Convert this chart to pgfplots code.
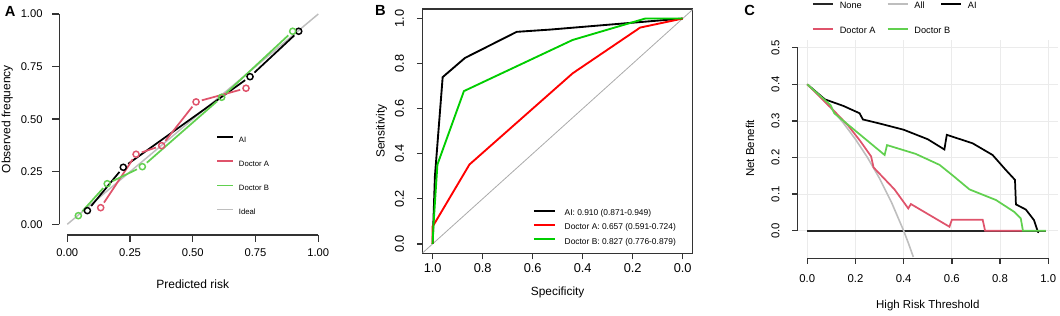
\documentclass[border=0pt]{standalone}
\usepackage{fontspec}
\setmainfont{Liberation Sans}
\usepackage{pgfplots}
\pgfplotsset{compat=1.18}
\definecolor{rA}{HTML}{DF536B}
\definecolor{gB}{HTML}{61D04F}
\definecolor{gy}{HTML}{BEBEBE}
\definecolor{rocred}{HTML}{FF0000}
\definecolor{rocgreen}{HTML}{00CD00}
\definecolor{diag}{HTML}{AAAAAA}
\definecolor{gridc}{HTML}{EBEBEB}
\definecolor{axc}{HTML}{333333}
\pgfplotsset{
  rstyle/.style={
    scale only axis, clip=false,
    /pgf/number format/assume math mode=true,
    legend cell align=left,
    unbounded coords=jump,
  },
}
\begin{document}
\begin{tikzpicture}
\path[use as bounding box] (0,0) rectangle (795pt,236.25pt);
% ---------------- Panel A ----------------
\begin{axis}[rstyle, at={(38.25pt,53.85pt)}, anchor=south west,
  width=208pt, height=178.2pt,
  xmin=-0.065, xmax=1.04, ymin=-0.09, ymax=1.04,
  axis line style={draw=none}, major tick length=0pt,
  xtick pos=left, ytick pos=left,
  xtick={0,0.25,0.5,0.75,1}, ytick={0,0.25,0.5,0.75,1},
  xticklabels={0.00,0.25,0.50,0.75,1.00},
  yticklabels={0.00,0.25,0.50,0.75,1.00},
  tick label style={font=\fontsize{8.4}{10}\selectfont},
  xticklabel shift=0.3pt, yticklabel shift=2.8pt,
  xlabel={Predicted risk}, ylabel={Observed frequency},
  label style={font=\fontsize{9}{11}\selectfont},
  xlabel style={at={(axis description cs:0.511,-0.1717)}, anchor=center},
  ylabel style={at={(axis description cs:-0.1575,0.522)}, anchor=center},
  legend style={draw=none, fill=none, inner sep=0pt,
    font=\fontsize{5.8}{7}\selectfont,
    at={(axis description cs:0.5945,0.4689)}, anchor=north west,
    row sep=8.1pt, column sep=0pt,
    nodes={inner sep=0pt, text height=0.75em, text depth=0.25em},
    cells={anchor=base west}},
  legend image code/.code={\draw[#1] (0pt,0.36em) -- (12pt,0.36em); \path (15.7pt,0.36em);},
]
% anchor points of the R-style axes (drawn after the axis)
\coordinate (Ax0) at (axis cs:0,-0.051);
\coordinate (Ax1) at (axis cs:0.25,-0.051);
\coordinate (Ax2) at (axis cs:0.5,-0.051);
\coordinate (Ax3) at (axis cs:0.75,-0.051);
\coordinate (Ax4) at (axis cs:1,-0.051);
\coordinate (Ay0) at (axis cs:-0.032,0);
\coordinate (Ay1) at (axis cs:-0.032,0.25);
\coordinate (Ay2) at (axis cs:-0.032,0.5);
\coordinate (Ay3) at (axis cs:-0.032,0.75);
\coordinate (Ay4) at (axis cs:-0.032,1);
\addplot[draw=axc, line width=1pt, forget plot] coordinates {(0,-0.051) (1,-0.051)};
\addplot[draw=axc, line width=1pt, forget plot] coordinates {(-0.032,0) (-0.032,1)};
\addlegendimage{color=black, line width=1.4pt}\addlegendentry{AI}
\addlegendimage{color=rA, line width=1.4pt}\addlegendentry{Doctor A}
\addlegendimage{color=gB, line width=1.4pt}\addlegendentry{Doctor B}
\addlegendimage{color=gy, line width=1.2pt}\addlegendentry{Ideal}
\addplot[gy, line width=1.1pt, forget plot] coordinates {(0,0) (1,1)};
\pgfplotsset{seg/.style={line width=1.3pt, shorten >=4.5pt, shorten <=4.5pt, forget plot}}
% AI
\addplot[black, seg] coordinates {(0.080,0.065) (0.223,0.271)};
\addplot[black, seg] coordinates {(0.223,0.271) (0.728,0.702)};
\addplot[black, seg] coordinates {(0.728,0.702) (0.922,0.918)};
\addplot[black, only marks, mark=o, mark size=2.3pt, line width=1.1pt, forget plot]
  coordinates {(0.080,0.065) (0.223,0.271) (0.728,0.702) (0.922,0.918)};
% Doctor A
\addplot[rA, seg] coordinates {(0.133,0.079) (0.274,0.333)};
\addplot[rA, seg] coordinates {(0.274,0.333) (0.376,0.374)};
\addplot[rA, seg] coordinates {(0.376,0.374) (0.513,0.582)};
\addplot[rA, seg] coordinates {(0.513,0.582) (0.712,0.647)};
\addplot[rA, only marks, mark=o, mark size=2.3pt, line width=1.1pt, forget plot]
  coordinates {(0.133,0.079) (0.274,0.333) (0.376,0.374) (0.513,0.582) (0.712,0.647)};
% Doctor B
\addplot[gB, seg] coordinates {(0.044,0.041) (0.159,0.193)};
\addplot[gB, seg] coordinates {(0.159,0.193) (0.299,0.274)};
\addplot[gB, seg] coordinates {(0.299,0.274) (0.615,0.604)};
\addplot[gB, seg] coordinates {(0.615,0.604) (0.898,0.918)};
\addplot[gB, only marks, mark=o, mark size=2.3pt, line width=1.1pt, forget plot]
  coordinates {(0.044,0.041) (0.159,0.193) (0.299,0.274) (0.615,0.604) (0.898,0.918)};
\end{axis}
% ---------------- Panel B ----------------
% x axis shows specificity decreasing from left to right (plotted at 1 - specificity)
\begin{axis}[rstyle, at={(317pt,46.1pt)}, anchor=south west,
  width=202.5pt, height=183.5pt,
  xmin=-0.04, xmax=1.04, ymin=-0.043, ymax=1.043,
  tick align=outside, major tick length=4.3pt,
  every tick/.style={draw=axc, line width=1pt},
  axis line style={draw=axc, line width=1pt},
  xtick pos=left, ytick pos=left,
  xtick={0,0.2,0.4,0.6,0.8,1}, ytick={0,0.2,0.4,0.6,0.8,1},
  xticklabels={1.0,0.8,0.6,0.4,0.2,0.0},
  yticklabels={0.0,0.2,0.4,0.6,0.8,1.0},
  tick label style={font=\fontsize{9.6}{11}\selectfont},
  yticklabel style={rotate=90, anchor=south},
  yticklabel shift=6.1pt,
  xlabel={Specificity}, ylabel={Sensitivity},
  label style={font=\fontsize{8.9}{11}\selectfont},
  xlabel style={at={(axis description cs:0.5,-0.159)}, anchor=center},
  ylabel style={at={(axis description cs:-0.152,0.5)}, anchor=center},
  legend style={draw=none, fill=none, inner sep=0pt,
    font=\fontsize{6.3}{7.6}\selectfont,
    at={(axis description cs:0.407,0.197)}, anchor=north west,
    row sep=0.7pt, column sep=0pt,
    nodes={inner sep=0pt, text height=0.75em, text depth=0.25em},
    cells={anchor=base west}},
  legend image code/.code={\draw[#1] (0pt,0.36em) -- (16pt,0.36em); \path (22.5pt,0.36em);},
]
\coordinate (Bx0) at (axis cs:0,-0.043);
\coordinate (Bx1) at (axis cs:0.2,-0.043);
\coordinate (Bx2) at (axis cs:0.4,-0.043);
\coordinate (Bx3) at (axis cs:0.6,-0.043);
\coordinate (Bx4) at (axis cs:0.8,-0.043);
\coordinate (Bx5) at (axis cs:1,-0.043);
\coordinate (By0) at (axis cs:-0.04,0);
\coordinate (By1) at (axis cs:-0.04,0.2);
\coordinate (By2) at (axis cs:-0.04,0.4);
\coordinate (By3) at (axis cs:-0.04,0.6);
\coordinate (By4) at (axis cs:-0.04,0.8);
\coordinate (By5) at (axis cs:-0.04,1);
\addplot[diag, line width=0.6pt, forget plot] coordinates {(-0.04,-0.04) (1.04,1.04)};
\addplot[black, line width=1.4pt] table[x expr=1-\thisrow{spec}, y=sens] {
spec sens
1.0 0
0.991 0.30
0.96 0.74
0.871 0.825
0.664 0.941
0.531 0.951
0.25 0.977
0 1
};
\addlegendentry{AI: 0.910 (0.871-0.949)}
\addplot[rocred, line width=1.4pt] table[x expr=1-\thisrow{spec}, y=sens] {
spec sens
1.0 0
1.0 0.078
0.995 0.086
0.853 0.352
0.44 0.757
0.17 0.96
0 1
};
\addlegendentry{Doctor A: 0.657 (0.591-0.724)}
\addplot[rocgreen, line width=1.4pt] table[x expr=1-\thisrow{spec}, y=sens] {
spec sens
1.0 0
0.997 0.08
0.981 0.352
0.875 0.678
0.44 0.905
0.15 1.0
0 1
};
\addlegendentry{Doctor B: 0.827 (0.776-0.879)}
\end{axis}
% ---------------- Panel C ----------------
\begin{axis}[rstyle, at={(592.8pt,37.1pt)}, anchor=south west,
  width=200.6pt, height=169.4pt,
  xmin=-0.07, xmax=1.04, ymin=-0.095, ymax=0.522,
  axis line style={draw=none}, major tick length=0pt,
  xtick pos=left, ytick pos=left,
  xtick={0,0.2,0.4,0.6,0.8,1}, ytick={0,0.1,0.2,0.3,0.4,0.5},
  xticklabels={0.0,0.2,0.4,0.6,0.8,1.0},
  yticklabels={0.0,0.1,0.2,0.3,0.4,0.5},
  tick label style={font=\fontsize{8.5}{10}\selectfont},
  yticklabel style={rotate=90, anchor=south},
  xticklabel shift=3pt, yticklabel shift=4.6pt,
  xlabel={High Risk Threshold}, ylabel={Net Benefit},
  label style={font=\fontsize{8.6}{10.5}\selectfont},
  xlabel style={at={(axis description cs:0.5137,-0.1749)}, anchor=center},
  ylabel style={at={(axis description cs:-0.151,0.5188)}, anchor=center},
  legend columns=3,
  legend style={draw=none, fill=none, inner sep=0pt,
    font=\fontsize{6.9}{8.3}\selectfont,
    at={(axis description cs:0.0798,1.1828)}, anchor=north west,
    row sep=8.8pt, column sep=0pt,
    nodes={inner sep=0pt, text height=0.75em, text depth=0.25em},
    cells={anchor=base west}},
  legend image code/.code={\draw[#1] (0pt,0.36em) -- (15pt,0.36em); \path (19.5pt,0.36em);},
]
\coordinate (Cx0) at (axis cs:0,-0.075);
\coordinate (Cx1) at (axis cs:0.2,-0.075);
\coordinate (Cx2) at (axis cs:0.4,-0.075);
\coordinate (Cx3) at (axis cs:0.6,-0.075);
\coordinate (Cx4) at (axis cs:0.8,-0.075);
\coordinate (Cx5) at (axis cs:1,-0.075);
\coordinate (Cy0) at (axis cs:-0.04,0);
\coordinate (Cy1) at (axis cs:-0.04,0.1);
\coordinate (Cy2) at (axis cs:-0.04,0.2);
\coordinate (Cy3) at (axis cs:-0.04,0.3);
\coordinate (Cy4) at (axis cs:-0.04,0.4);
\coordinate (Cy5) at (axis cs:-0.04,0.5);
% light grid
\addplot[gridc, line width=0.6pt, forget plot] coordinates {
  (0,-0.075) (0,0.522) (0,nan) (0.2,-0.075) (0.2,0.522) (0.2,nan) (0.4,-0.075) (0.4,0.522) (0.4,nan)
  (0.6,-0.075) (0.6,0.522) (0.6,nan) (0.8,-0.075) (0.8,0.522) (0.8,nan) (1,-0.075) (1,0.522) (1,nan)
  (-0.04,0) (1.04,0) (nan,0) (-0.04,0.1) (1.04,0.1) (nan,0.1) (-0.04,0.2) (1.04,0.2) (nan,0.2)
  (-0.04,0.3) (1.04,0.3) (nan,0.3) (-0.04,0.4) (1.04,0.4) (nan,0.4) (-0.04,0.5) (1.04,0.5)};
\addplot[draw=axc, line width=1pt, forget plot] coordinates {(0,-0.075) (1,-0.075)};
\addplot[draw=axc, line width=1pt, forget plot] coordinates {(-0.04,0) (-0.04,0.5)};
\addplot[black!85, line width=1.2pt] coordinates {(0,0) (0.99,0)};
\addlegendentry{\makebox[35.2pt][l]{None}}
\addplot[gy, line width=1.2pt] coordinates {(0,0.4) (0.05,0.3684) (0.1,0.3333) (0.15,0.2941) (0.2,0.25) (0.25,0.2) (0.3,0.1429) (0.35,0.0769) (0.4,0) (0.42,-0.0345) (0.44,-0.0714)};
\addlegendentry{\makebox[19.3pt][l]{All}}
\addplot[black, line width=1.3pt] coordinates {(0,0.4) (0.073,0.359) (0.15,0.341) (0.217,0.321) (0.231,0.304) (0.3,0.293) (0.4,0.276) (0.5,0.25) (0.569,0.222) (0.579,0.262) (0.686,0.239) (0.769,0.207) (0.824,0.166) (0.862,0.139) (0.866,0.072) (0.907,0.058) (0.941,0.029) (0.957,-0.003) (0.962,-0.004)};
\addlegendentry{AI}
\addplot[rA, line width=1.3pt] coordinates {(0,0.4) (0.1,0.335) (0.17,0.287) (0.22,0.245) (0.265,0.203) (0.275,0.173) (0.362,0.113) (0.419,0.061) (0.43,0.073) (0.59,0.011) (0.60,0.030) (0.728,0.030) (0.738,0) (0.892,0)};
\addlegendentry{\makebox[35.2pt][l]{Doctor A}}
\addplot[gB, line width=1.3pt] coordinates {(0,0.4) (0.097,0.343) (0.112,0.321) (0.2,0.273) (0.321,0.207) (0.331,0.234) (0.45,0.21) (0.549,0.18) (0.6,0.153) (0.673,0.113) (0.783,0.084) (0.858,0.052) (0.886,0.034) (0.895,0) (0.99,0)};
\addlegendentry{\makebox[19.3pt][l]{Doctor B}}
\end{axis}
% R-style axis lines and tick marks, at the points taken from the axes above
\begin{scope}[draw=axc, line width=1pt]
\draw (Ax0) -- (Ax4);
\draw (Ay0) -- (Ay4);
\foreach \i in {0,...,4} {
  \draw (Ax\i) -- ++(0pt,-5.25pt);
  \draw (Ay\i) -- ++(-5.25pt,0pt);
}
\foreach \i in {0,...,5} {
  \draw (Bx\i) -- ++(0pt,-4.3pt);
  \draw (By\i) -- ++(-4.3pt,0pt);
}
\draw (Cx0) -- (Cx5);
\draw (Cy0) -- (Cy5);
\foreach \i in {0,...,5} {
  \draw (Cx\i) -- ++(0pt,-4.5pt);
  \draw (Cy\i) -- ++(-4.5pt,0pt);
}
\end{scope}
\node[font=\bfseries\fontsize{11}{13}\selectfont] at (7.7pt,227.5pt) {A};
\node[font=\bfseries\fontsize{11}{13}\selectfont] at (285.4pt,228.75pt) {B};
\node[font=\bfseries\fontsize{11}{13}\selectfont] at (562.3pt,228.75pt) {C};
\end{tikzpicture}
\end{document}
